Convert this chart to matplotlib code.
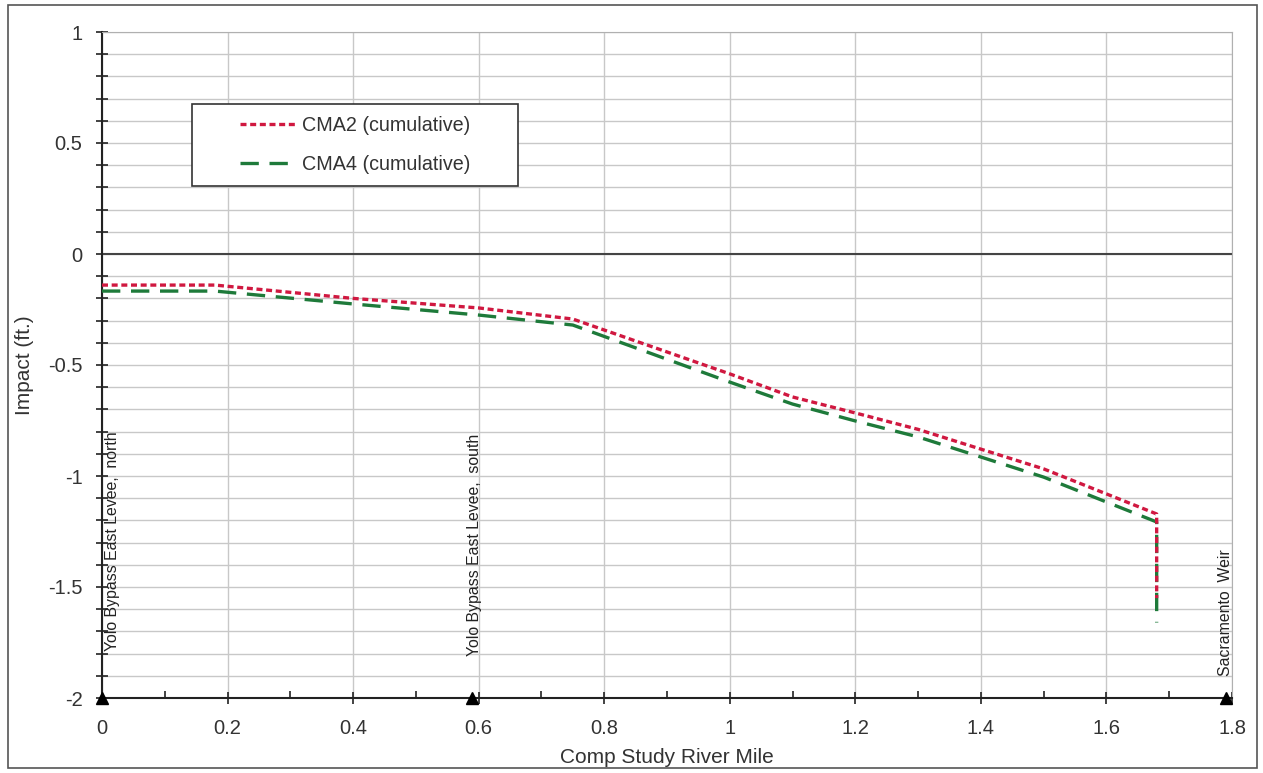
import numpy as np
import matplotlib.pyplot as plt
from matplotlib.patches import Rectangle
from matplotlib.ticker import MultipleLocator

plt.rcParams['font.family'] = ['Liberation Sans', 'DejaVu Sans']

# river mile and cumulative impact (ft.)
miles = [0.0, 0.18, 0.4, 0.6, 0.75, 1.0, 1.1, 1.2, 1.3, 1.5, 1.68, 1.68]
cma2 = [-0.14, -0.14, -0.20, -0.243, -0.293, -0.54, -0.644, -0.716, -0.79, -0.968, -1.171, -1.55]
cma4 = [-0.167, -0.167, -0.225, -0.275, -0.32, -0.577, -0.676, -0.752, -0.824, -1.005, -1.207, -1.66]

# landmarks along the river
mark_x = [0.0, 0.59, 1.79]
mark_names = ["Yolo Bypass East Levee,  north", "Yolo Bypass East Levee,  south", "Sacramento  Weir"]

W, H = 1263, 773
fig = plt.figure(figsize=(W / 100, H / 100), dpi=100)
ax = fig.add_axes([102/W, 1-698/H, (1232-102)/W, (698-32)/H])

ax.set_xlim(0, 1.8)
ax.set_ylim(-2, 1)
ax.xaxis.set_minor_locator(MultipleLocator(0.1))
ax.yaxis.set_minor_locator(MultipleLocator(0.1))
ax.set_xticks(np.arange(0, 1.81, 0.2))
ax.set_xticklabels(["0", "0.2", "0.4", "0.6", "0.8", "1", "1.2", "1.4", "1.6", "1.8"])
ax.set_yticks([-2, -1.5, -1, -0.5, 0, 0.5, 1])
ax.set_yticklabels(["-2", "-1.5", "-1", "-0.5", "0", "0.5", "1"])

ax.grid(True, which='major', axis='x', color='#c8c8c8', lw=1)
ax.grid(True, which='both', axis='y', color='#c8c8c8', lw=1)
ax.set_axisbelow(True)
ax.tick_params(which='both', labelsize=14.5, labelcolor='#333333', color='#222222', width=1.2)
ax.tick_params(axis='x', which='major', direction='inout', length=8, pad=11)
ax.tick_params(axis='x', which='minor', direction='in', length=5)
ax.tick_params(axis='y', which='both', direction='inout', length=8, pad=10)

for s in ['top', 'right']:
    ax.spines[s].set_color('#b0b0b0')
for s in ['left', 'bottom']:
    ax.spines[s].set_color('#222222')
    ax.spines[s].set_linewidth(1.5)

ax.axhline(0, color='#444444', lw=1.5, zorder=1)

ax.plot(miles, cma2, color='#d01840', lw=2.4, dashes=(1.8, 1.1), label='CMA2 (cumulative)', zorder=4)
ax.plot(miles, cma4, color='#1e7a3a', lw=2.4, dashes=(5.5, 3.2), label='CMA4 (cumulative)', zorder=3)

ax.plot(mark_x, [-2] * len(mark_x), '^', color='black', ms=8, clip_on=False, zorder=5)
# small per-label nudges (px right, y of text start)
nudges = [(10, -1.79), (2, -1.81), (0, -1.90)]
for mx, name, (dx, y0) in zip(mark_x, mark_names, nudges):
    ax.annotate(name, (mx, y0), xytext=(dx * 0.72, 0), textcoords='offset points',
                rotation=90, ha='center', va='bottom', fontsize=11.4, color='#222222')

ax.set_xlabel('Comp Study River Mile', fontsize=15, color='#333333', labelpad=7)
ax.set_ylabel('Impact (ft.)', fontsize=15, color='#333333', labelpad=10)

leg = ax.legend(loc='center left', bbox_to_anchor=((240-102)/1130, 1-(145-32)/666),
                fontsize=14.2, frameon=False, handlelength=2.9, labelspacing=1.0,
                handletextpad=0.25, borderpad=0, borderaxespad=0)
leg.set_zorder(6)
for t in leg.get_texts():
    t.set_color('#333333')
# legend frame drawn as its own box, under the legend entries
ax.add_patch(Rectangle((192/W, 1-186/H), (518-192)/W, (186-104)/H,
                       transform=fig.transFigure, facecolor='white', clip_on=False,
                       edgecolor='#333333', lw=1.2, zorder=5))

fig.patches.append(Rectangle((8/W, 1-768/H), (1257-8)/W, (768-5)/H,
                             transform=fig.transFigure, fill=False, edgecolor='#555555', lw=1.2))

fig.savefig('out.png', dpi=100)
